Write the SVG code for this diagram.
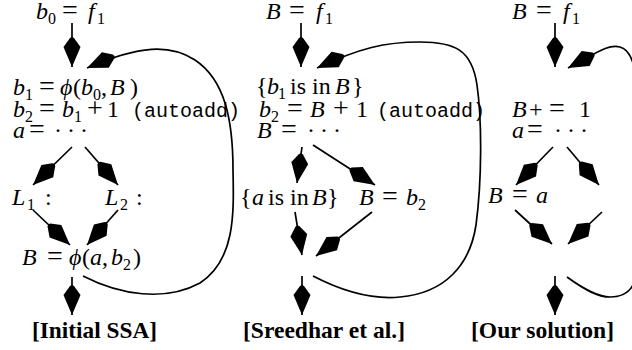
<svg xmlns="http://www.w3.org/2000/svg" width="632" height="350" viewBox="0 0 632 350">
<style>
.m{font-family:"Liberation Serif","DejaVu Serif",serif;font-size:24px;fill:#000}
.i{font-style:italic}
.s{font-size:16px}
.eq{font-size:28px}
.tt{font-family:"Liberation Mono","DejaVu Sans Mono",monospace;font-size:20px}
.dots{letter-spacing:5px}
.cap{font-family:"Liberation Serif",serif;font-weight:bold;font-size:23.5px;fill:#000}
.c{fill:none;stroke:#000;stroke-width:1.7;marker-end:url(#k)}
</style>
<defs>
<marker id="k" viewBox="-31 -9 32 18" refX="0" refY="0" markerWidth="32" markerHeight="18" markerUnits="userSpaceOnUse" orient="auto">
<path d="M0,0 L-20,-8.5 L-29,-2 L-30,0 L-29,2 L-20,8.5 Z" fill="#000"/>
</marker>
</defs>
<rect width="632" height="350" fill="#fff"/>
<g id="connectors">
<path class="c" d="M72,23 L72,67"/>
<path class="c" d="M72,147 L33,185"/>
<path class="c" d="M85,147 L118,185"/>
<path class="c" d="M33,210 L70,245"/>
<path class="c" d="M118,210 L87,245"/>
<path class="c" d="M72,277 L72,315"/>
<path class="c" d="M83,276 C120,295 165,302 200,283 C235,260 234,215 233,170 C233,120 225,80 195,60 C170,44 140,45 87,68"/>
<path class="c" d="M301,23 L301,67"/>
<path class="c" d="M302,147 L297,183"/>
<path class="c" d="M313,145 L375,185"/>
<path class="c" d="M295,212 L302,255"/>
<path class="c" d="M372,212 L316,256"/>
<path class="c" d="M302,276 L302,315"/>
<path class="c" d="M313,276 C340,290 370,300 400,297 C445,293 470,265 476,225 C482,180 482,120 477,85 C472,50 455,42 420,42 C385,42 360,48 317,68"/>
<path class="c" d="M555,23 L555,67"/>
<path class="c" d="M553,147 L516,185"/>
<path class="c" d="M567,147 L599,185"/>
<path class="c" d="M515,210 L552,244"/>
<path class="c" d="M602,212 L568,244"/>
<path class="c" d="M555,276 L555,315"/>
<path class="c" d="M567,277 C585,290 598,297 610,297 C625,297 637,290 637,265 L637,100 C637,70 632,50 620,47 C608,44 598,52 568,68"/>
</g>
<g id="ssa-entry"><text class="m"><tspan class="i" x="36" y="19">b</tspan><tspan class="s" x="48" y="24">0</tspan><tspan class="eq" x="62" y="19">=</tspan><tspan class="i" x="88" y="19">f</tspan><tspan class="s" x="97" y="24">1</tspan></text></g>
<g id="ssa-header">
<text class="m"><tspan class="i" x="13" y="95">b</tspan><tspan class="s" x="25" y="100">1</tspan><tspan class="eq" x="39" y="95">=</tspan><tspan class="i" x="60" y="95">ϕ</tspan><tspan x="73" y="95">(</tspan><tspan class="i" x="81" y="95">b</tspan><tspan class="s" x="93" y="100">0</tspan><tspan x="101" y="95">,</tspan><tspan class="i" x="110" y="95">B</tspan><tspan x="130" y="95">)</tspan></text>
<text class="m"><tspan class="i" x="13" y="117">b</tspan><tspan class="s" x="25" y="122">2</tspan><tspan class="eq" x="39" y="117">=</tspan><tspan class="i" x="62" y="117">b</tspan><tspan class="s" x="74" y="122">1</tspan><tspan class="eq" x="87" y="117">+</tspan><tspan x="107" y="117">1</tspan><tspan class="tt" x="132" y="117">(autoadd)</tspan></text>
<text class="m"><tspan class="i" x="13" y="138">a</tspan><tspan class="eq" x="29" y="138">=</tspan><tspan class="dots" x="54" y="138">···</tspan></text>
</g>
<g id="ssa-L1"><text class="m"><tspan class="i" x="12" y="205">L</tspan><tspan class="s" x="27" y="210">1</tspan><tspan x="45" y="205">:</tspan></text></g>
<g id="ssa-L2"><text class="m"><tspan class="i" x="105" y="205">L</tspan><tspan class="s" x="120" y="210">2</tspan><tspan x="136" y="205">:</tspan></text></g>
<g id="ssa-join"><text class="m"><tspan class="i" x="22" y="265">B</tspan><tspan class="eq" x="47" y="265">=</tspan><tspan class="i" x="69" y="265">ϕ</tspan><tspan x="82" y="265">(</tspan><tspan class="i" x="90" y="265">a</tspan><tspan x="102" y="265">,</tspan><tspan class="i" x="111" y="265">b</tspan><tspan class="s" x="123" y="270">2</tspan><tspan x="133" y="265">)</tspan></text></g>
<g id="ssa-caption"><text class="cap" x="32" y="338" textLength="125" lengthAdjust="spacingAndGlyphs">[Initial SSA]</text></g>

<g id="sreedhar-entry"><text class="m"><tspan class="i" x="266" y="19">B</tspan><tspan class="eq" x="289" y="19">=</tspan><tspan class="i" x="316" y="19">f</tspan><tspan class="s" x="325" y="24">1</tspan></text></g>
<g id="sreedhar-header">
<text class="m"><tspan x="256" y="94">{</tspan><tspan class="i" x="267" y="94">b</tspan><tspan class="s" x="278" y="99">1</tspan><tspan x="290" y="94">is in</tspan><tspan class="i" x="335" y="94">B</tspan><tspan x="352" y="94">}</tspan></text>
<text class="m"><tspan class="i" x="259" y="117">b</tspan><tspan class="s" x="271" y="122">2</tspan><tspan class="eq" x="287" y="117">=</tspan><tspan class="i" x="310" y="117">B</tspan><tspan class="eq" x="333" y="117">+</tspan><tspan x="356" y="117">1</tspan><tspan class="tt" x="377" y="117">(autoadd)</tspan></text>
<text class="m"><tspan class="i" x="257" y="138">B</tspan><tspan class="eq" x="281" y="138">=</tspan><tspan class="dots" x="307" y="138">···</tspan></text>
</g>
<g id="sreedhar-left"><text class="m"><tspan x="240" y="205">{</tspan><tspan class="i" x="252" y="205">a</tspan><tspan x="268" y="205">is in</tspan><tspan class="i" x="312" y="205">B</tspan><tspan x="327" y="205">}</tspan></text></g>
<g id="sreedhar-right"><text class="m"><tspan class="i" x="359" y="205">B</tspan><tspan class="eq" x="382" y="205">=</tspan><tspan class="i" x="406" y="205">b</tspan><tspan class="s" x="418" y="210">2</tspan></text></g>
<g id="sreedhar-caption"><text class="cap" x="243" y="338" textLength="162" lengthAdjust="spacingAndGlyphs">[Sreedhar et al.]</text></g>

<g id="our-entry"><text class="m"><tspan class="i" x="512" y="19">B</tspan><tspan class="eq" x="536" y="19">=</tspan><tspan class="i" x="563" y="19">f</tspan><tspan class="s" x="572" y="24">1</tspan></text></g>
<g id="our-header">
<text class="m"><tspan class="i" x="512" y="117">B</tspan><tspan x="529" y="117">+</tspan><tspan class="eq" x="549" y="117">=</tspan><tspan x="579" y="117">1</tspan></text>
<text class="m"><tspan class="i" x="512" y="138">a</tspan><tspan class="eq" x="527" y="138">=</tspan><tspan class="dots" x="554" y="138">···</tspan></text>
</g>
<g id="our-left"><text class="m"><tspan class="i" x="488" y="203">B</tspan><tspan class="eq" x="512" y="203">=</tspan><tspan class="i" x="536" y="203">a</tspan></text></g>
<g id="our-caption"><text class="cap" x="471" y="338" textLength="143" lengthAdjust="spacingAndGlyphs">[Our solution]</text></g>
</svg>
